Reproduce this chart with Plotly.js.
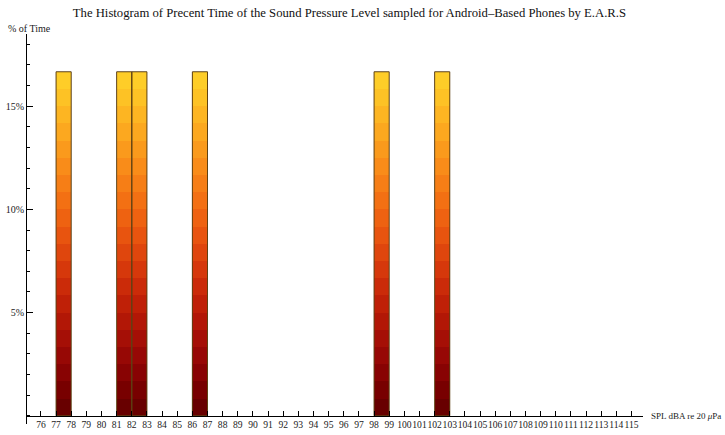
<!DOCTYPE html>
<html>
<head>
<meta charset="utf-8">
<script src="https://cdn.plot.ly/plotly-3.0.1.min.js"></script>
<style>
  html, body { margin: 0; padding: 0; background: #fff; }
  #chart { width: 725px; height: 435px; }
</style>
</head>
<body>
<div id="chart"></div>
<script>
// Histogram bins (lower edge, dBA) and share of time in each bin (%)
const binStart = [77, 81, 82, 86, 98, 102];
const binWidth = [1, 1, 1, 1, 1, 1];
const pctTime = [16.67, 16.67, 16.67, 16.67, 16.67, 16.67];

// Axis ticks
const xTickVals = [];
for (let v = 76; v <= 115; v++) xTickVals.push(v);
const xTickText = xTickVals.map(String);
const yTickVals = [5, 10, 15];
const yTickText = ['5%', '10%', '15%'];

// Height-graded fill: dark red at the base to yellow at the top
const bands = [
  '#680000', '#780000', '#880303', '#970805', '#a50f06', '#b21706',
  '#bf2007', '#cb2b09', '#d6380b', '#df460d', '#e8540f', '#ee6211',
  '#f37013', '#f67e16', '#f98c19', '#fa9a1c', '#fca81f', '#fdb522',
  '#fdc225', '#fecd28'
];

const centers = binStart.map((s, i) => s + binWidth[i] / 2);
const traces = [];
bands.forEach((color, k) => {
  traces.push({
    type: 'bar',
    x: centers,
    width: binWidth,
    base: pctTime.map(p => p * k / bands.length),
    y: pctTime.map(p => p / bands.length),
    marker: { color: color, line: { width: 0 } },
    hoverinfo: 'skip',
    showlegend: false
  });
});
// Bar outlines
traces.push({
  type: 'bar',
  x: centers,
  width: binWidth,
  base: pctTime.map(() => 0),
  y: pctTime,
  marker: { color: 'rgba(0,0,0,0)', line: { width: 1, color: '#5e4214' } },
  hovertemplate: '%{x}: %{y:.1f}%<extra></extra>',
  showlegend: false
});

const yMin = -0.4, yMax = 18.5;
const serif = 'Liberation Serif, Times New Roman, serif';

const layout = {
  width: 725,
  height: 435,
  margin: { l: 26.7, r: 82, t: 34.4, b: 11.3 },
  paper_bgcolor: '#fff',
  plot_bgcolor: '#fff',
  barmode: 'overlay',
  bargap: 0,
  font: { family: serif, size: 10, color: '#222' },
  title: {
    text: 'The Histogram of Precent Time of the Sound Pressure Level sampled for Android\u2013Based Phones by E.A.R.S',
    font: { family: serif, size: 12.7, color: '#111' },
    x: 0.482, xanchor: 'center',
    y: 0.972, yanchor: 'middle'
  },
  xaxis: {
    range: [75.08, 115.76],
    anchor: 'free',
    position: (0 - yMin) / (yMax - yMin),
    tickmode: 'array',
    tickvals: xTickVals,
    ticktext: xTickText,
    tickangle: 0,
    ticks: 'inside',
    ticklen: 5,
    tickcolor: '#000',
    showline: true,
    linecolor: '#000',
    linewidth: 1,
    showgrid: false,
    zeroline: false,
    tickfont: { family: serif, size: 9.6, color: '#222' }
  },
  yaxis: {
    range: [yMin, yMax],
    tickmode: 'array',
    tickvals: yTickVals,
    ticktext: yTickText,
    ticks: 'inside',
    ticklen: 6,
    tickcolor: '#000',
    minor: { dtick: 1, tick0: 0, ticks: 'inside', ticklen: 3, tickcolor: '#000', showgrid: false },
    showline: true,
    linecolor: '#000',
    linewidth: 1,
    showgrid: false,
    zeroline: false,
    tickfont: { family: serif, size: 10, color: '#222' }
  },
  annotations: [
    {
      text: '% of Time',
      xref: 'paper', yref: 'paper',
      x: (6 - 26.7) / 616.3, xanchor: 'left',
      y: (423.7 - 29) / 389.3, yanchor: 'middle',
      showarrow: false,
      font: { family: serif, size: 10, color: '#222' }
    },
    {
      text: 'SPL dBA re 20 <i>\u03bc</i>Pa',
      xref: 'paper', yref: 'paper',
      x: (649 - 26.7) / 616.3, xanchor: 'left',
      y: (423.7 - 416) / 389.3, yanchor: 'middle',
      showarrow: false,
      font: { family: serif, size: 9, color: '#222' }
    }
  ]
};

Plotly.newPlot('chart', traces, layout, { displayModeBar: false, staticPlot: true });
</script>
</body>
</html>
